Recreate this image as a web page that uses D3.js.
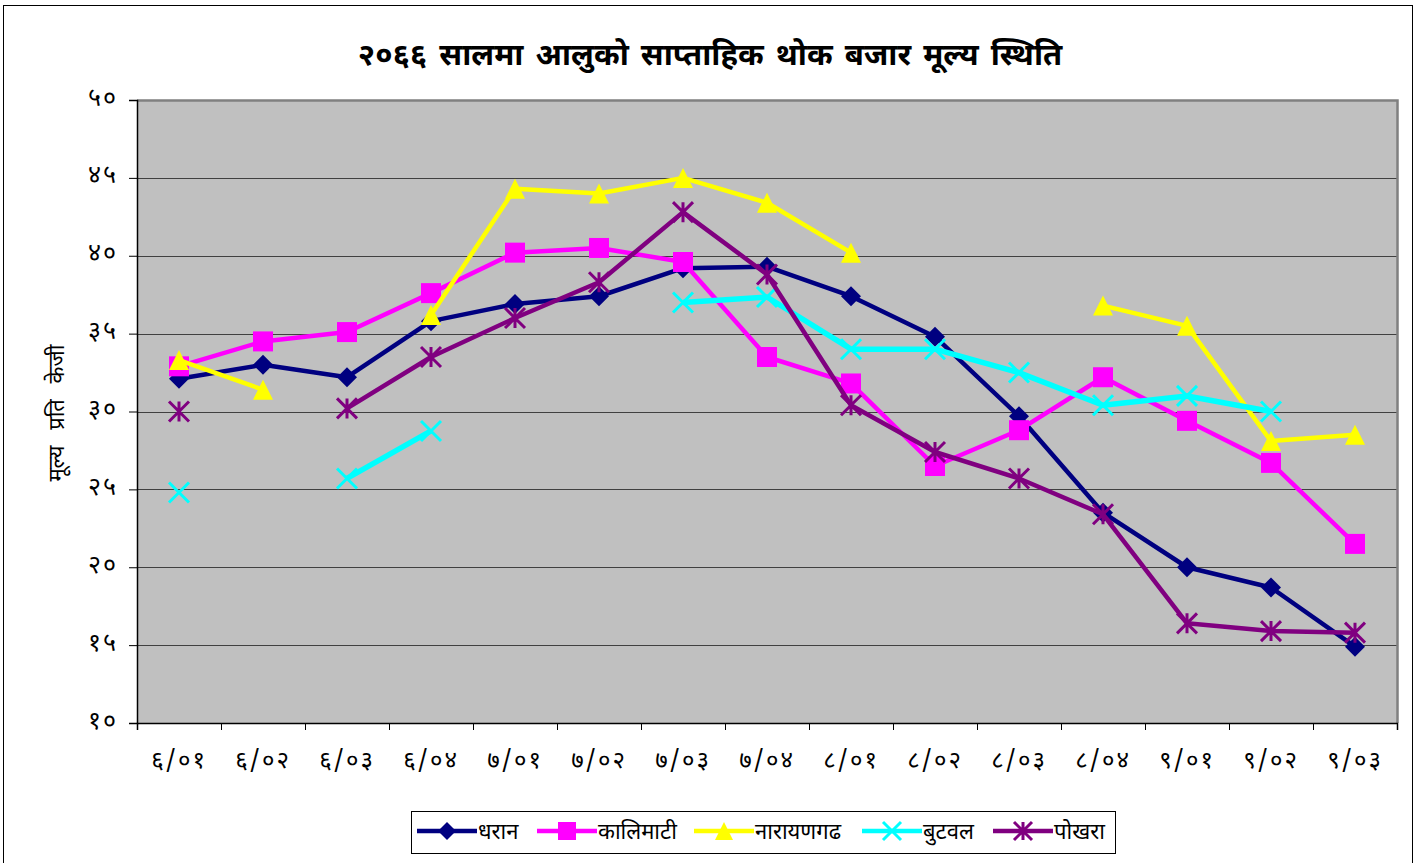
<!DOCTYPE html>
<html>
<head>
<meta charset="utf-8">
<script src="https://cdn.jsdelivr.net/npm/d3@7"></script>
<style>
  body { margin: 0; background: #fff; }
  text { font-family: "Noto Sans Devanagari", "Lohit Devanagari", "Mangal", "FreeSans", sans-serif; }
</style>
</head>
<body>
<div id="chart"></div>
<script>
var weeks = ["६/०१","६/०२","६/०३","६/०४","७/०१","७/०२","७/०३","७/०४","८/०१","८/०२","८/०३","८/०४","९/०१","९/०२","९/०३"];
var yTicks = [10, 15, 20, 25, 30, 35, 40, 45, 50];
var yTickLabels = ["१०","१५","२०","२५","३०","३५","४०","४५","५०"];

var dharan    = [32.1, 33.0, 32.2, 35.8, 36.9, 37.4, 39.2, 39.3, 37.4, 34.8, 29.7, 23.5, 20.0, 18.7, 14.9];
var kalimati  = [32.9, 34.5, 35.1, 37.6, 40.2, 40.5, 39.6, 33.5, 31.8, 26.5, 28.8, 32.2, 29.4, 26.7, 21.5];
var narayangadh = [33.3, 31.4, null, 36.2, 44.3, 44.0, 45.0, 43.4, 40.2, null, null, 36.8, 35.5, 28.1, 28.5];
var butwal    = [24.8, null, 25.7, 28.75, null, null, 37.0, 37.35, 34.0, 34.0, 32.5, 30.4, 31.0, 30.0, null];
var pokhara   = [30.0, null, 30.2, 33.5, 36.0, 38.3, 42.8, 38.8, 30.4, 27.4, 25.7, 23.4, 16.4, 15.9, 15.8];

var seriesNames = ["धरान", "कालिमाटी", "नारायणगढ", "बुटवल", "पोखरा"];
var seriesValues = [dharan, kalimati, narayangadh, butwal, pokhara];
var seriesColors = ["#000080", "#ff00ff", "#ffff00", "#00ffff", "#800080"];
var seriesMarkers = ["diamond", "square", "triangle", "x", "star"];

var W = 1416, H = 863;
var pLeft = 137, pRight = 1397, pTop = 100, pBottom = 723;

var svg = d3.select("#chart").append("svg")
    .attr("width", W)
    .attr("height", H);

svg.append("rect")
    .attr("x", 3.5).attr("y", 5.5)
    .attr("width", 1409).attr("height", 880)
    .attr("fill", "none").attr("stroke", "#000");

var x = d3.scaleBand().domain(weeks).range([pLeft, pRight]).padding(0);
var xEdges = d3.scaleLinear().domain([0, weeks.length]).range([pLeft, pRight]);
var y = d3.scaleLinear().domain([10, 50]).range([pBottom, pTop]);

// plot background
svg.append("rect")
    .attr("x", pLeft).attr("y", pTop)
    .attr("width", pRight - pLeft).attr("height", pBottom - pTop)
    .attr("fill", "#c0c0c0");

// gridlines
svg.selectAll("line.grid")
    .data(yTicks.filter(function(d) { return d > 10 && d < 50; }))
    .enter().append("line")
    .attr("class", "grid")
    .attr("x1", pLeft).attr("x2", pRight)
    .attr("y1", function(d) { return Math.round(y(d)) + 0.5; })
    .attr("y2", function(d) { return Math.round(y(d)) + 0.5; })
    .attr("stroke", "#404040").attr("stroke-width", 1);

// gray border top / right
svg.append("path")
    .attr("d", "M" + pLeft + "," + (pTop + 0.5) + "H" + (pRight + 0.5) + "V" + pBottom)
    .attr("fill", "none").attr("stroke", "#808080").attr("stroke-width", 2.5);

// y axis
var yAxis = d3.axisLeft(y)
    .tickValues(yTicks)
    .tickSize(8)
    .tickFormat(function(d, i) { return yTickLabels[i]; });

var gy = svg.append("g")
    .attr("transform", "translate(" + pLeft + ",0)")
    .call(yAxis);
gy.select(".domain").attr("stroke", "#000").attr("stroke-width", 1.5);
gy.selectAll(".tick line").attr("stroke", "#000");
gy.selectAll(".tick text")
    .attr("x", -19)
    .attr("dy", "0.2em")
    .style("font-size", "25px")
    .style("letter-spacing", "2px")
    .attr("fill", "#000");

// x axis: boundary ticks
var xAxis = d3.axisBottom(xEdges)
    .tickValues(d3.range(weeks.length + 1))
    .tickSize(7)
    .tickFormat("");
var gx = svg.append("g")
    .attr("transform", "translate(0," + pBottom + ")")
    .call(xAxis);
gx.select(".domain").attr("stroke", "#000").attr("stroke-width", 1.5);
gx.selectAll(".tick line").attr("stroke", "#000");

// x labels
var xLabels = d3.axisBottom(x).tickSize(0).tickPadding(0);
var gxl = svg.append("g")
    .attr("transform", "translate(0," + (pBottom + 28) + ")")
    .call(xLabels);
gxl.select(".domain").remove();
gxl.selectAll(".tick text")
    .style("font-size", "24px")
    .style("letter-spacing", "2px")
    .attr("fill", "#000");

// title
svg.append("text")
    .attr("x", 710).attr("y", 65)
    .attr("text-anchor", "middle")
    .style("font-size", "31px")
    .style("font-weight", "bold")
    .style("word-spacing", "4px")
    .text("२०६६ सालमा आलुको साप्ताहिक थोक बजार मूल्य स्थिति");

// y axis title
svg.append("text")
    .attr("transform", "translate(64,413) rotate(-90)")
    .attr("text-anchor", "middle")
    .style("font-size", "22px")
    .style("word-spacing", "10px")
    .text("मूल्य प्रति केजी");

function markerPath(type, s) {
  var h = s / 2;
  if (type === "diamond") return "M0," + (-h) + "L" + h + ",0L0," + h + "L" + (-h) + ",0Z";
  if (type === "square") return "M" + (-h) + "," + (-h) + "H" + h + "V" + h + "H" + (-h) + "Z";
  if (type === "triangle") return "M0," + (-h) + "L" + h + "," + h + "L" + (-h) + "," + h + "Z";
  if (type === "x") return "M" + (-h) + "," + (-h) + "L" + h + "," + h + "M" + h + "," + (-h) + "L" + (-h) + "," + h;
  if (type === "star") return "M" + (-h) + "," + (-h) + "L" + h + "," + h + "M" + h + "," + (-h) + "L" + (-h) + "," + h + "M0," + (-h) + "V" + h;
}

function drawMarker(g, type, color, cx, cy, s) {
  var filled = (type === "diamond" || type === "square" || type === "triangle");
  g.append("path")
    .attr("d", markerPath(type, s))
    .attr("transform", "translate(" + cx + "," + cy + ")")
    .attr("fill", filled ? color : "none")
    .attr("stroke", color)
    .attr("stroke-width", filled ? 0 : 3);
}

var line = d3.line()
    .defined(function(d) { return d != null; })
    .x(function(d, i) { return x(weeks[i]) + x.bandwidth() / 2; })
    .y(function(d) { return y(d); });

var plot = svg.append("g");
seriesValues.forEach(function(vals, si) {
  plot.append("path")
    .datum(vals)
    .attr("d", line)
    .attr("fill", "none")
    .attr("stroke", seriesColors[si])
    .attr("stroke-width", si === 3 ? 5.5 : 4.5)
    .attr("stroke-linejoin", "round");
  vals.forEach(function(v, i) {
    if (v == null) return;
    drawMarker(plot, seriesMarkers[si], seriesColors[si], x(weeks[i]) + x.bandwidth() / 2, y(v), 20);
  });
});

// legend
var legendX = [417, 537, 694, 862, 993];
var legend = svg.append("g");
legend.append("rect")
    .attr("x", 411.5).attr("y", 811.5)
    .attr("width", 704).attr("height", 42)
    .attr("fill", "#fff").attr("stroke", "#000");
seriesNames.forEach(function(name, si) {
  var lx = legendX[si], ly = 831;
  legend.append("line")
    .attr("x1", lx).attr("x2", lx + 60)
    .attr("y1", ly).attr("y2", ly)
    .attr("stroke", seriesColors[si])
    .attr("stroke-width", 4.5);
  drawMarker(legend, seriesMarkers[si], seriesColors[si], lx + 30, ly, 18);
  legend.append("text")
    .attr("x", lx + 61).attr("y", ly + 8)
    .style("font-size", "22px")
    .text(name);
});
</script>
</body>
</html>
